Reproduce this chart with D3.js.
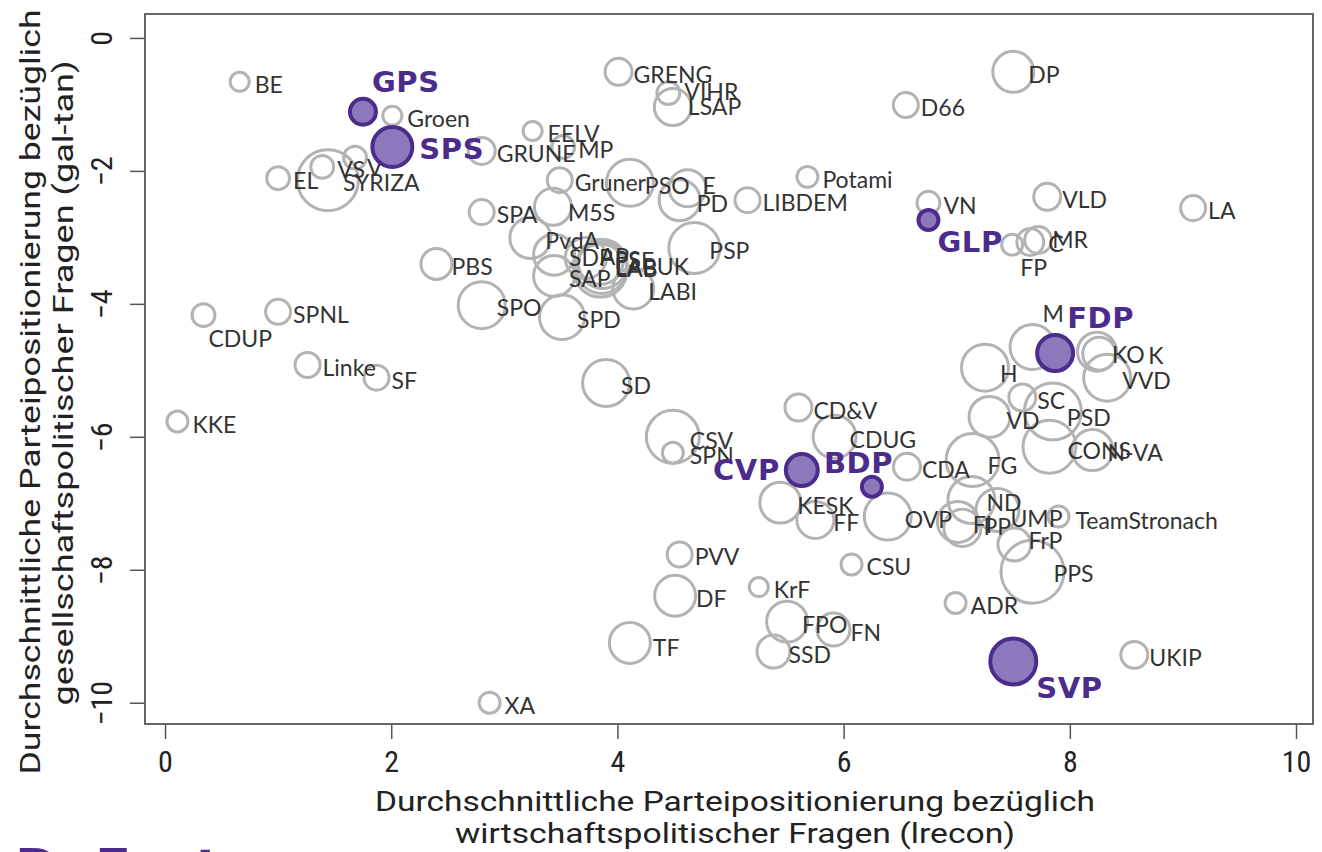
<!DOCTYPE html>
<html><head><meta charset="utf-8">
<script src="https://cdn.jsdelivr.net/npm/d3@7"></script>
<style>
html,body{margin:0;padding:0;background:#fff;}
svg{display:block;}
</style></head>
<body>
<svg id="chart" width="1322" height="852"></svg>
<script>
// ---- data ----
const parties = ["BE","GPS","Groen","SPS","SYRIZA","VS","V","EL","GRUNE","EELV","MP","Gruner","PSO","E","PD","LIBDEM","Potami","GRENG","VIHR","LSAP","SPA","M5S","PvdA","SDP","AP","PS","PSE","LAB","LABUK","LABI","SAP","SPD","SPO","PBS","PSP","SD","CDUP","SPNL","Linke","SF","KKE","XA","CSV","SPN","CVP","BDP","CD&V","CDUG","CDA","KESK","FF","OVP","PVV","DF","TF","KrF","CSU","FPO","FN","SSD","ADR","PPS","SVP","UKIP","M","FDP","KO","K","VVD","H","SC","PSD","VD","CONS","N-VA","FG","ND","UMP","FI","PP","FrP","TeamStronach","DP","D66","VN","GLP","VLD","MR","C","FP","LA"];
const lrecon = [0.66,1.75,2.01,2.01,1.44,1.39,1.68,1.00,2.80,3.25,3.52,3.49,4.11,4.62,4.55,5.15,5.68,4.01,4.45,4.49,2.80,3.43,3.23,3.44,3.72,3.85,3.87,3.85,3.86,4.14,3.44,3.51,2.80,2.40,4.68,3.90,0.34,1.00,1.26,1.87,0.11,2.87,4.49,4.49,5.63,6.25,5.60,5.92,6.56,5.44,5.75,6.39,4.55,4.51,4.11,5.25,6.07,5.50,5.91,5.38,6.99,7.67,7.50,8.57,7.67,7.87,8.24,8.26,8.33,7.25,7.58,7.85,7.29,7.82,8.20,7.14,7.13,7.36,7.01,7.05,7.51,7.90,7.50,6.55,6.75,6.75,7.80,7.72,7.65,7.49,9.09];
const galtan = [-0.66,-1.11,-1.17,-1.64,-2.14,-1.94,-1.80,-2.11,-1.70,-1.40,-1.64,-2.14,-2.18,-2.26,-2.44,-2.44,-2.09,-0.51,-0.83,-1.04,-2.62,-2.54,-3.01,-3.26,-3.31,-3.37,-3.40,-3.50,-3.46,-3.77,-3.58,-4.20,-4.02,-3.40,-3.16,-5.19,-4.17,-4.12,-4.92,-5.11,-5.77,-10.0,-6.00,-6.24,-6.50,-6.75,-5.56,-6.00,-6.45,-6.99,-7.25,-7.20,-7.77,-8.39,-9.10,-8.26,-7.92,-8.78,-8.90,-9.23,-8.50,-8.03,-9.38,-9.28,-4.65,-4.74,-4.72,-4.75,-5.11,-4.96,-5.41,-5.62,-5.70,-6.15,-6.20,-6.35,-6.95,-7.10,-7.28,-7.37,-7.62,-7.20,-0.51,-1.01,-2.48,-2.74,-2.39,-3.04,-3.07,-3.11,-2.56];
const voteShare = [6.0,11.1,6.0,23.9,50.6,8.3,8.3,8.3,11.1,6.0,8.3,9.7,30.9,19.8,23.9,9.7,7.1,11.1,8.3,19.8,9.7,19.8,23.9,23.9,23.9,28.4,33.4,38.7,36.0,23.9,23.9,28.4,30.9,14.3,36.0,30.9,8.3,9.7,9.7,9.7,7.1,7.1,38.7,7.1,16.0,7.1,11.1,26.1,11.1,23.9,19.8,30.9,9.7,23.9,23.9,6.0,7.1,23.9,16.0,16.0,7.1,53.8,30.9,11.1,28.4,19.8,21.8,16.0,30.9,30.9,11.1,44.4,23.9,38.7,23.9,38.7,30.9,26.1,23.9,19.8,16.0,7.1,23.9,9.7,8.3,7.1,11.1,11.1,11.1,7.1,9.7];
const swissParties = ["GPS","SPS","GLP","FDP","CVP","BDP","SVP"];
const xTicks = [0,2,4,6,8,10];
const yTicks = [0,-2,-4,-6,-8,-10];
const xTitle = ["Durchschnittliche Parteipositionierung bezüglich","wirtschaftspolitischer Fragen (lrecon)"];
const yTitle = ["Durchschnittliche Parteipositionierung bezüglich","gesellschaftspolitischer Fragen (gal-tan)"];

// ---- layout: label nudges in px (dx, dy) relative to circle centre ----
const defaultNudge = [15, 2];
const labelNudge = {
  "GPS":[9,-30],"SPS":[27,2],"V":[12,9],"CDUP":[5,23],"E":[15,-3],"PD":[17,3],
  "CSV":[17,3],"SPN":[17,2],"CVP":[-22,0],"BDP":[-48,-24],"KESK":[17,2],"FF":[18,2],
  "OVP":[17,2],"DF":[21,2],"TF":[23,4],"FN":[17,2],"PPS":[21,1],"SVP":[23,26],
  "M":[10,-34],"FDP":[12,-35],"K":[49,1],"VD":[17,3],"CONS":[18,3],"UMP":[13,8],
  "PP":[21,-2],"FrP":[14,-5],"TeamStronach":[17,3],"GLP":[9,22],"FP":[8,22],"C":[18,1],
  "PSD":[14,5],"H":[15,5],"FG":[15,5],"M5S":[15,5],"AP":[14,-2],"PS":[14,-3],
  "PSE":[12,-4],"LAB":[15,-3],"LABUK":[13,-2],"VIHR":[16,-2],"LSAP":[15,-1],"MR":[14,-1]
};
const endAnchored = ["CVP"];

const data = parties.map((p,i)=>({party:p, x:lrecon[i], y:galtan[i], s:voteShare[i], swiss:swissParties.includes(p)}));

const svg = d3.select("#chart");
const L=145, R=1313, T=14, B=724;
const x = d3.scaleLinear().domain([-0.177, 10.15]).range([L, R]);
const y = d3.scaleLinear().domain([0.36, -10.32]).range([T, B]);
const r = d3.scaleSqrt().domain([0, 50]).range([0, 31.8]);

const purple = "#4b2c8c", purpleFill = "#8c78ba", grey = "#b3b3b3", txt = "#333333";

// axes
const xAxis = svg.append("g").attr("transform",`translate(0,${B})`)
  .call(d3.axisBottom(x).tickValues(xTicks).tickSize(15).tickPadding(12).tickFormat(d3.format("d")));
const yAxis = svg.append("g").attr("transform",`translate(${L},0)`)
  .call(d3.axisLeft(y).tickValues(yTicks).tickSize(15).tickFormat(d=>d3.format("d")(d).replace("-","\u2212")));
[xAxis,yAxis].forEach(g=>{
  g.select(".domain").remove();
  g.selectAll(".tick line").attr("stroke","#555").attr("stroke-width",1.5);
});
xAxis.selectAll(".tick text").attr("font-family","'Liberation Sans Narrow','Roboto Condensed','DejaVu Sans',sans-serif")
  .attr("font-stretch","condensed").attr("font-size",30).attr("fill","#222").attr("dy","0.71em");
yAxis.selectAll(".tick text")
  .attr("font-family","'Liberation Sans Narrow','Roboto Condensed','DejaVu Sans',sans-serif")
  .attr("font-stretch","condensed").attr("font-size",30).attr("fill","#222")
  .attr("text-anchor","middle").attr("x",null).attr("dy",null)
  .attr("transform","translate(-33,0) rotate(-90)");

// box
svg.append("rect").attr("x",L).attr("y",T).attr("width",R-L).attr("height",B-T)
  .attr("fill","none").attr("stroke","#666").attr("stroke-width",2);

// points
const plot = svg.append("g");
const greyData = data.filter(d=>!d.swiss), swissData = data.filter(d=>d.swiss);
plot.selectAll("circle.g").data(greyData).join("circle").attr("class","g")
  .attr("cx",d=>x(d.x)).attr("cy",d=>y(d.y)).attr("r",d=>r(d.s)-1.5)
  .attr("fill","none").attr("stroke",grey).attr("stroke-width",3);
function nudge(d){ return labelNudge[d.party] || defaultNudge; }
plot.selectAll("text.g").data(greyData).join("text").attr("class","g")
  .attr("x",d=>x(d.x)+nudge(d)[0]).attr("y",d=>y(d.y)+nudge(d)[1])
  .attr("dominant-baseline","central")
  .attr("font-family","Lato, 'Open Sans', sans-serif").attr("font-size",23).attr("fill",txt)
  .text(d=>d.party);
plot.selectAll("circle.s").data(swissData).join("circle").attr("class","s")
  .attr("cx",d=>x(d.x)).attr("cy",d=>y(d.y)).attr("r",d=>r(d.s)-2)
  .attr("fill",purpleFill).attr("stroke",purple).attr("stroke-width",4);
plot.selectAll("text.s").data(swissData).join("text").attr("class","s")
  .attr("x",d=>x(d.x)+nudge(d)[0]).attr("y",d=>y(d.y)+nudge(d)[1])
  .attr("dominant-baseline","central")
  .attr("text-anchor",d=>endAnchored.includes(d.party)?"end":"start")
  .attr("font-family","'DejaVu Sans', sans-serif").attr("font-weight","bold").attr("font-size",29)
  .attr("letter-spacing",0.6).attr("fill",purple)
  .text(d=>d.party);

// axis titles
const titleFont = "Roboto, 'Open Sans', sans-serif";
svg.append("text").attr("x",735).attr("y",811).attr("text-anchor","middle")
  .attr("font-family",titleFont).attr("font-size",28).attr("fill","#222")
  .attr("textLength",720).attr("lengthAdjust","spacingAndGlyphs").text(xTitle[0]);
svg.append("text").attr("x",735).attr("y",843).attr("text-anchor","middle")
  .attr("font-family",titleFont).attr("font-size",28).attr("fill","#222")
  .attr("textLength",560).attr("lengthAdjust","spacingAndGlyphs").text(xTitle[1]);
svg.append("text").attr("transform","translate(40,392) rotate(-90)").attr("text-anchor","middle")
  .attr("font-family",titleFont).attr("font-size",28).attr("fill","#222")
  .attr("textLength",765).attr("lengthAdjust","spacingAndGlyphs").text(yTitle[0]);
svg.append("text").attr("transform","translate(73,383) rotate(-90)").attr("text-anchor","middle")
  .attr("font-family",titleFont).attr("font-size",28).attr("fill","#222")
  .attr("textLength",645).attr("lengthAdjust","spacingAndGlyphs").text(yTitle[1]);

// cut-off logo at bottom edge
svg.append("text").attr("x",15).attr("y",887).attr("font-family","'DejaVu Sans', sans-serif")
  .attr("font-weight","bold").attr("font-size",53).attr("fill",purple).text("DeFacto");
</script>
</body></html>
